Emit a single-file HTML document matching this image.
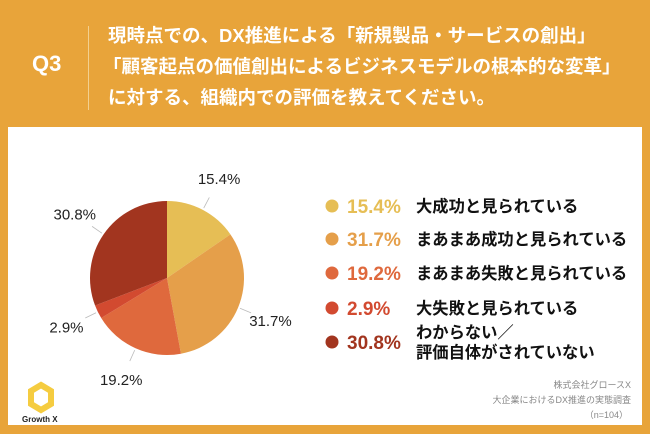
<!DOCTYPE html>
<html><head><meta charset="utf-8">
<style>
body{margin:0;width:650px;height:434px;background:#E8A43A;overflow:hidden;font-family:"Liberation Sans","Noto Sans CJK JP",sans-serif;position:relative}
.abs{position:absolute;white-space:nowrap}
#panel{position:absolute;left:8px;top:127px;width:634px;height:298px;background:#fff}
.tl{color:#fff;font-weight:bold;font-size:18.5px;left:103px}
</style></head><body>
<div class="abs" style="left:32px;top:51px;color:#fff;font-weight:bold;font-size:22px">Q3</div>
<div style="position:absolute;left:88px;top:26px;width:1px;height:84px;background:#f3d08f"></div>
<div class="abs tl" style="top:22px;left:108px">現時点での、DX推進による「新規製品・サービスの創出」</div>
<div class="abs tl" style="top:53px">「顧客起点の価値創出によるビジネスモデルの根本的な変革」</div>
<div class="abs tl" style="top:84px;left:108px">に対する、組織内での評価を教えてください。</div>
<div id="panel"></div>
<svg id="chart" width="650" height="434" style="position:absolute;left:0;top:0"></svg>
<div class="abs" style="right:19px;top:378px;font-size:9px;color:#888">株式会社グロースX</div>
<div class="abs" style="right:19px;top:393px;font-size:9px;color:#888">大企業におけるDX推進の実態調査</div>
<div class="abs" style="right:22px;top:408px;font-size:9px;color:#888">（n=104）</div>
<svg width="30" height="34" style="position:absolute;left:26px;top:381px"><polygon points="15,4 25,10 25,23 15,29 5,23 5,10" fill="none" stroke="#F5CC40" stroke-width="6"/></svg>
<div class="abs" style="left:22px;top:415px;font-size:8px;font-weight:bold;color:#222">Growth X</div>
<script>
const categories=["大成功と見られている","まあまあ成功と見られている","まあまあ失敗と見られている","大失敗と見られている","わからない／評価自体がされていない"];
const values=[15.4,31.7,19.2,2.9,30.8];
const valueLabels=["15.4%","31.7%","19.2%","2.9%","30.8%"];
const colors=["#E6BE55","#E59F4A","#DF693D","#D24A30","#A2351F"];
const svg=document.getElementById('chart');
const NS="http://www.w3.org/2000/svg";
const cx=167,cy=278,r=77;
const total=values.reduce((a,b)=>a+b,0);
function pt(a,rr){return [cx+rr*Math.sin(a),cy-rr*Math.cos(a)];}
let acc=0;
values.forEach((v,i)=>{
  const a0=acc/total*2*Math.PI;acc+=v;const a1=acc/total*2*Math.PI;
  const p0=pt(a0,r),p1=pt(a1,r);
  const path=document.createElementNS(NS,'path');
  path.setAttribute('d',`M${cx},${cy}L${p0[0]},${p0[1]}A${r},${r} 0 ${a1-a0>Math.PI?1:0} 1 ${p1[0]},${p1[1]}Z`);
  path.setAttribute('fill',colors[i]);
  
  
  svg.appendChild(path);
  const am=(a0+a1)/2;
  const q0=pt(am,r+2),q1=pt(am,r+14);
  const ln=document.createElementNS(NS,'line');
  ln.setAttribute('x1',q0[0]);ln.setAttribute('y1',q0[1]);ln.setAttribute('x2',q1[0]);ln.setAttribute('y2',q1[1]);
  ln.setAttribute('stroke','#bbb');ln.setAttribute('stroke-width','0.8');
  
  
  svg.appendChild(ln);
  const q2=pt(am,r+35);
  const t=document.createElementNS(NS,'text');
  t.setAttribute('x',q2[0]);t.setAttribute('y',q2[1]+5);t.setAttribute('text-anchor','middle');
  t.setAttribute('font-size','15');t.setAttribute('fill','#222');
  t.setAttribute('font-family','"Liberation Sans",sans-serif');
  t.textContent=valueLabels[i];
  
  
  svg.appendChild(t);
});
const rowY=[206,239,273,308,342];
categories.forEach((c,i)=>{
  const y=rowY[i];
  const d=document.createElementNS(NS,'circle');
  d.setAttribute('cx',332);d.setAttribute('cy',y);d.setAttribute('r',6.5);d.setAttribute('fill',colors[i]);
  
  
  svg.appendChild(d);
  const tv=document.createElementNS(NS,'text');
  tv.setAttribute('x',347);tv.setAttribute('y',y+7);tv.setAttribute('font-size','19');tv.setAttribute('font-weight','bold');
  tv.setAttribute('fill',colors[i]);tv.setAttribute('font-family','"Liberation Sans",sans-serif');
  tv.textContent=valueLabels[i];
  
  
  svg.appendChild(tv);
  const parts=c.includes('／')?[c.slice(0,c.indexOf('／')+1),c.slice(c.indexOf('／')+1)]:[c];
  parts.forEach((p,j)=>{
    const tl=document.createElementNS(NS,'text');
    const yy=parts.length>1?y-10+j*20:y;
    tl.setAttribute('x',416);tl.setAttribute('y',yy+6);tl.setAttribute('font-size','16.3');tl.setAttribute('font-weight','bold');
    tl.setAttribute('fill','#111');tl.setAttribute('font-family','"Liberation Sans","Noto Sans CJK JP",sans-serif');
    tl.textContent=p;
    
    
    svg.appendChild(tl);
  });
});
</script>
</body></html>
